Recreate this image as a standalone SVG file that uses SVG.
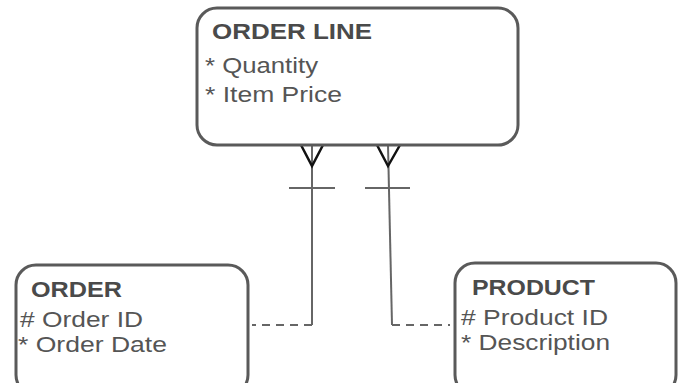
<svg xmlns="http://www.w3.org/2000/svg" width="678" height="383" viewBox="0 0 678 383">
<style>
.box{fill:#fff;stroke:#5a5a5a;stroke-width:3}
.title{font-family:"Liberation Sans",Arial,sans-serif;font-weight:bold;font-size:22px;fill:#4a4a4a}
.attr{font-family:"Liberation Sans",Arial,sans-serif;font-size:22px;fill:#555}
.line{fill:none;stroke:#666;stroke-width:2}
.dash{fill:none;stroke:#666;stroke-width:2;stroke-dasharray:8 6}
.foot{fill:none;stroke:#111;stroke-width:2.5}
</style>
<rect width="678" height="383" fill="#fff"/>
<g id="connectors">
<path class="line" d="M312,145 V325"/>
<path class="dash" d="M312,325 H252"/>
<path class="foot" d="M301,145 L312,166 L323,145"/>
<path class="line" d="M289,188 H335"/>
<path class="line" d="M388,145 L392,325"/>
<path class="dash" d="M392,325 H450"/>
<path class="foot" d="M377,145 L388,166 L400,145"/>
<path class="line" d="M365,188 H410"/>
</g>
<g id="order-line">
<rect class="box" x="197" y="8" width="321" height="137" rx="20"/>
<text class="title" x="212" y="39" textLength="160" lengthAdjust="spacingAndGlyphs">ORDER LINE</text>
<text class="attr" x="205" y="73" textLength="113" lengthAdjust="spacingAndGlyphs">* Quantity</text>
<text class="attr" x="205" y="102" textLength="137" lengthAdjust="spacingAndGlyphs">* Item Price</text>
</g>
<g id="order">
<rect class="box" x="16" y="265" width="232" height="130" rx="20"/>
<text class="title" x="31" y="297" textLength="91" lengthAdjust="spacingAndGlyphs">ORDER</text>
<text class="attr" x="20" y="327" textLength="123" lengthAdjust="spacingAndGlyphs"># Order ID</text>
<text class="attr" x="18" y="352" textLength="149" lengthAdjust="spacingAndGlyphs">* Order Date</text>
</g>
<g id="product">
<rect class="box" x="455" y="263" width="221" height="132" rx="20"/>
<text class="title" x="472" y="295" textLength="123" lengthAdjust="spacingAndGlyphs">PRODUCT</text>
<text class="attr" x="461" y="325" textLength="147" lengthAdjust="spacingAndGlyphs"># Product ID</text>
<text class="attr" x="461" y="350" textLength="149" lengthAdjust="spacingAndGlyphs">* Description</text>
</g>
</svg>
